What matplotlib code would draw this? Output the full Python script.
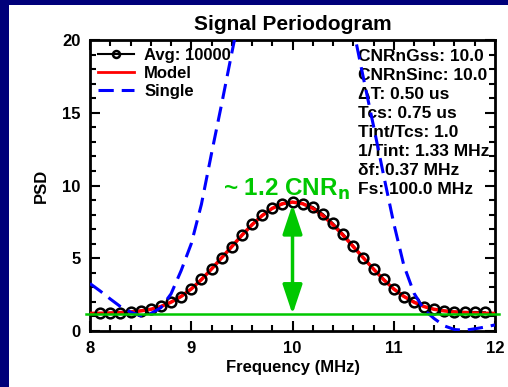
import matplotlib
matplotlib.use("Agg")
import matplotlib.pyplot as plt
from matplotlib.patches import Rectangle, FancyArrowPatch
from matplotlib.lines import Line2D
from matplotlib.ticker import MultipleLocator

plt.rcParams["font.family"] = ["Liberation Sans", "DejaVu Sans"]
plt.rcParams["font.weight"] = "bold"

# ── Data ──────────────────────────────────────────────────────────────────────

# averaged periodogram (10000 averages), one point per 0.1 MHz
freq_avg = [8.1, 8.2, 8.3, 8.4, 8.5, 8.6, 8.7, 8.8, 8.9, 9.0,
            9.1, 9.2, 9.3, 9.4, 9.5, 9.6, 9.7, 9.8, 9.9, 10.0,
            10.1, 10.2, 10.3, 10.4, 10.5, 10.6, 10.7, 10.8, 10.9, 11.0,
            11.1, 11.2, 11.3, 11.4, 11.5, 11.6, 11.7, 11.8, 11.9]
psd_avg = [1.22, 1.24, 1.26, 1.31, 1.39, 1.49, 1.70, 2.00, 2.36, 2.88,
           3.56, 4.25, 5.01, 5.77, 6.57, 7.33, 7.95, 8.43, 8.71, 8.87,
           8.75, 8.53, 8.04, 7.40, 6.66, 5.86, 5.01, 4.25, 3.56, 2.89,
           2.36, 2.02, 1.67, 1.49, 1.40, 1.33, 1.31, 1.31, 1.29]

# model spectrum
freq_model = [8.0, 8.1, 8.2, 8.3, 8.4, 8.5, 8.6, 8.7, 8.8, 8.9, 9.0,
              9.1, 9.2, 9.3, 9.4, 9.5, 9.6, 9.7, 9.8, 9.9, 10.0,
              10.1, 10.2, 10.3, 10.4, 10.5, 10.6, 10.7, 10.8, 10.9, 11.0,
              11.1, 11.2, 11.3, 11.4, 11.5, 11.6, 11.7, 11.8, 11.9, 12.0]
psd_model = [1.21, 1.22, 1.24, 1.27, 1.31, 1.38, 1.49, 1.68, 1.98, 2.38, 2.89,
             3.53, 4.26, 5.03, 5.80, 6.58, 7.30, 7.93, 8.43, 8.75, 8.86,
             8.75, 8.43, 7.93, 7.30, 6.58, 5.80, 5.03, 4.26, 3.53, 2.89,
             2.38, 1.98, 1.68, 1.49, 1.38, 1.31, 1.27, 1.24, 1.22, 1.21]

# single (un-averaged) periodogram, runs off the top of the axes near the peak
freq_single = [8.0, 8.1, 8.2, 8.3, 8.4, 8.5, 8.6, 8.7, 8.8, 8.9, 9.0,
               9.1, 9.2, 9.3, 9.4, 9.5,
               10.5, 10.6, 10.7, 10.8, 10.9, 11.0, 11.1, 11.2, 11.3,
               11.4, 11.5, 11.6, 11.7, 11.8, 11.9, 12.0]
psd_single = [3.26, 2.75, 2.20, 1.68, 1.30, 1.05, 1.20, 1.60, 2.55, 4.15, 6.00,
              8.70, 12.2, 15.6, 19.1, 22.5,
              24.0, 20.8, 17.4, 14.1, 10.7, 7.40, 4.50, 2.60, 1.45,
              0.85, 0.35, 0.10, 0.05, 0.15, 0.27, 0.42]

noise_floor = 1.15
peak_level = 8.70
peak_freq = 10.0

params = ["CNRnGss: 10.0", "CNRnSinc: 10.0", "\u0394T: 0.50 us", "Tcs: 0.75 us",
          "Tint/Tcs: 1.0", "1/Tint: 1.33 MHz", "\u03b4f: 0.37 MHz", "Fs: 100.0 MHz"]

GREEN = "#00c800"

# ── Figure ────────────────────────────────────────────────────────────────────

fig = plt.figure(figsize=(5.08, 3.87), dpi=100, facecolor="#00007a")
fig.patches.append(Rectangle((9 / 508, 0), 1, 1 - 5 / 387, transform=fig.transFigure,
                             facecolor="white", edgecolor="none", zorder=-10))

ax = fig.add_axes([0.1772, 0.1447, 0.7972, 0.7519])
ax.set_facecolor("white")

ax.plot(freq_avg, psd_avg, color="black", lw=1.5, zorder=3)
ax.plot(freq_model, psd_model, color="red", lw=2.5, zorder=4)
ax.plot(freq_avg, psd_avg, ls="none", marker="o", ms=7, mfc="none",
        mec="black", mew=1.8, zorder=5)
ax.plot(freq_single, psd_single, color="blue", lw=2.2, dashes=(5, 2.6), zorder=6)

ax.axhline(noise_floor, xmin=-0.01, xmax=1.01, color=GREEN, lw=1.8,
           clip_on=False, zorder=7)

arrow = FancyArrowPatch((peak_freq, noise_floor), (peak_freq, peak_level),
                        arrowstyle="<|-|>,head_length=0.9,head_width=0.3",
                        mutation_scale=20, color=GREEN, lw=2.5,
                        shrinkA=0, shrinkB=0, zorder=8)
ax.add_patch(arrow)
ax.text(9.31, 9.7, "~ 1.2 CNR$_\\mathbf{n}$", color=GREEN, fontsize=17.5,
        fontweight="bold", ha="left", va="center", zorder=9)

for i, s in enumerate(params):
    ax.text(0.662, 0.943 - i * 0.0651, s, transform=ax.transAxes, fontsize=12.5,
            ha="left", va="center", zorder=2)

handles = [Line2D([], [], color="black", lw=1.5, marker="o", ms=5, mfc="none", mew=1.8),
           Line2D([], [], color="red", lw=2),
           Line2D([], [], color="blue", lw=2.2, dashes=(5, 2.6))]
ax.legend(handles, ["Avg: 10000", "Model", "Single"], loc="upper left",
          frameon=False, fontsize=12, handlelength=2.2, handletextpad=0.6,
          labelspacing=0.2, borderaxespad=0.25, borderpad=0.2)

ax.set_xlim(8, 12)
ax.set_ylim(0, 20)
ax.xaxis.set_major_locator(MultipleLocator(1))
ax.xaxis.set_minor_locator(MultipleLocator(0.2))
ax.yaxis.set_major_locator(MultipleLocator(5))
ax.yaxis.set_minor_locator(MultipleLocator(1))
ax.tick_params(which="both", direction="in", top=True, right=True, width=1.5,
               labelsize=12, pad=7)
ax.tick_params(which="major", length=7)
ax.tick_params(which="minor", length=4)
for sp in ax.spines.values():
    sp.set_linewidth(2)

ax.set_title("Signal Periodogram", fontsize=15, fontweight="bold", pad=7)
ax.set_xlabel("Frequency (MHz)", fontsize=12, fontweight="bold", labelpad=3)
ax.set_ylabel("PSD", fontsize=12, fontweight="bold", labelpad=9)

fig.savefig("out.png", dpi=100, facecolor=fig.get_facecolor())
